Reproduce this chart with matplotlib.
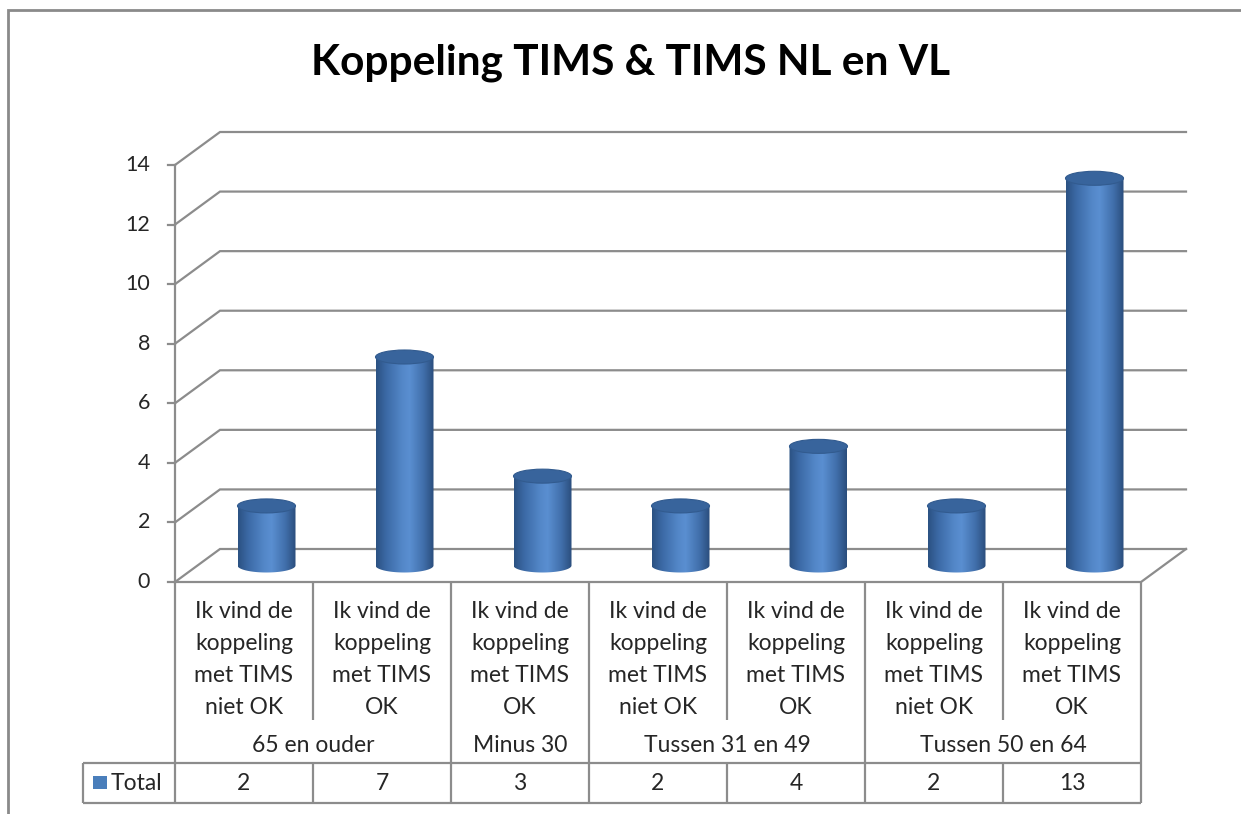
import numpy as np
import matplotlib
matplotlib.use("Agg")
import matplotlib.pyplot as plt
from matplotlib.patches import Ellipse, PathPatch, Rectangle
from matplotlib.path import Path
from matplotlib.colors import LinearSegmentedColormap

# ---------------- data ----------------
title = "Koppeling TIMS & TIMS NL en VL"
category_labels = [
    ["Ik vind de", "koppeling", "met TIMS", "niet OK"],
    ["Ik vind de", "koppeling", "met TIMS", "OK"],
    ["Ik vind de", "koppeling", "met TIMS", "OK"],
    ["Ik vind de", "koppeling", "met TIMS", "niet OK"],
    ["Ik vind de", "koppeling", "met TIMS", "OK"],
    ["Ik vind de", "koppeling", "met TIMS", "niet OK"],
    ["Ik vind de", "koppeling", "met TIMS", "OK"],
]
groups = ["65 en ouder", "Minus 30", "Tussen 31 en 49", "Tussen 50 en 64"]
group_sizes = [2, 1, 2, 2]
series_name = "Total"
values = [2, 7, 3, 2, 4, 2, 13]
yticks = [0, 2, 4, 6, 8, 10, 12, 14]

# ---------------- layout (pixels) ----------------
W, H = 1241, 814
X0, X1 = 175, 1141          # front plot edges
Y0, Y14 = 582, 165          # pixel rows of value 0 and 14
DX, DY = 45, 33             # depth offset in pixels
n = len(values)
colw = (X1 - X0) / n
ppu = (Y0 - Y14) / 14.0

FONT = "Lato"
TXT = "#262626"
GRID = "#8c8c8c"
FS = 16.5

fig = plt.figure(figsize=(W / 100, H / 100), dpi=100)
# overlay axes in pixel coordinates for layout elements
fa = fig.add_axes([0, 0, 1, 1])
fa.set_xlim(0, W)
fa.set_ylim(H, 0)
fa.axis("off")

# main data axes aligned with the front plane
ax = fig.add_axes([X0 / W, (H - Y0) / H, (X1 - X0) / W, (Y0 - Y14) / H])
ax.axis("off")
dxd = DX / colw
dyd = DY / ppu

# walls / gridlines
for t in yticks:
    ax.plot([-0.5, -0.5 + dxd, n - 0.5 + dxd], [t, t + dyd, t + dyd],
            color=GRID, lw=1.6, clip_on=False, solid_joinstyle="miter", zorder=1)
    ax.plot([-0.5 - 7 / colw, -0.5], [t, t], color=GRID, lw=1.6, clip_on=False, zorder=1)
    ax.text(-0.5 - 25 / colw, t, str(t), ha="right", va="center",
            fontsize=15.5, family=FONT, color=TXT)
ax.plot([-0.5, -0.5], [0, yticks[-1]], color=GRID, lw=1.6, clip_on=False, zorder=1)
ax.plot([-0.5, n - 0.5, n - 0.5 + dxd], [0, 0, dyd], color=GRID, lw=1.6,
        clip_on=False, solid_joinstyle="miter", zorder=1)

# cylinders
cmap = LinearSegmentedColormap.from_list(
    "cyl", [(0.0, "#2b5182"), (0.18, "#3c6aa6"), (0.45, "#5387c8"),
            (0.58, "#5a8fd1"), (0.82, "#416fab"), (1.0, "#2a4d7c")])
grad = np.linspace(0, 1, 256)[None, :]
w = 58 / colw
eh = 14 / ppu
th = np.linspace(np.pi, 2 * np.pi, 60)
for i, v in enumerate(values):
    cx = i + dxd / 2
    base = dyd / 2
    top = v + dyd / 2
    xs = [cx - w / 2, cx - w / 2] + list(cx + (w / 2) * np.cos(th)) + [cx + w / 2, cx + w / 2]
    ys = [top, base] + list(base + (eh / 2) * np.sin(th)) + [base, top]
    verts = list(zip(xs, ys)) + [(xs[0], ys[0])]
    codes = [Path.MOVETO] + [Path.LINETO] * (len(verts) - 2) + [Path.CLOSEPOLY]
    body = PathPatch(Path(verts, codes), facecolor="none", edgecolor="none",
                     transform=ax.transData)
    ax.add_patch(body)
    im = ax.imshow(grad, cmap=cmap, aspect="auto", zorder=2,
                   extent=[cx - w / 2, cx + w / 2, base - eh, top],
                   interpolation="bilinear")
    im.set_clip_path(body)
    ax.add_patch(Ellipse((cx, top), w, eh, facecolor="#38649c",
                         edgecolor="#325b8f", lw=0.8, zorder=3))
ax.set_xlim(-0.5, n - 0.5)
ax.set_ylim(0, yticks[-1])

# ---------------- data table ----------------
row1_bot = 720
row2_bot = 763
row3_bot = 803
legend_left = 83
lc = dict(color="#8c8c8c", lw=1.6, solid_capstyle="butt")
bounds = [X0 + colw * k for k in range(n + 1)]
gb = np.cumsum([0] + group_sizes)
# verticals
for k, xb in enumerate(bounds):
    if k in gb:
        fa.plot([xb, xb], [Y0, row3_bot], **lc)
    else:
        fa.plot([xb, xb], [Y0, row1_bot], **lc)
        fa.plot([xb, xb], [row2_bot, row3_bot], **lc)
fa.plot([legend_left, legend_left], [row2_bot, row3_bot], **lc)
fa.plot([legend_left, X1], [row2_bot, row2_bot], **lc)
fa.plot([legend_left, X1], [row3_bot, row3_bot], **lc)

for i, lines in enumerate(category_labels):
    cxp = X0 + colw * (i + 0.5)
    for j, s in enumerate(lines):
        fa.text(cxp, 611 + 32.3 * j, s, ha="center", va="center",
                fontsize=FS, family=FONT, color=TXT)
    fa.text(cxp, (row2_bot + row3_bot) / 2, str(values[i]), ha="center", va="center",
            fontsize=FS, family=FONT, color=TXT)
for g, name in enumerate(groups):
    cxp = X0 + colw * (gb[g] + gb[g + 1]) / 2
    fa.text(cxp, 746, name, ha="center", va="center", fontsize=FS, family=FONT, color=TXT)

fa.add_patch(Rectangle((93, 776), 14, 13, facecolor="#4a7ebb", edgecolor="none"))
fa.text(111, (row2_bot + row3_bot) / 2, series_name, ha="left", va="center",
        fontsize=FS, family=FONT, color=TXT)

# title
fa.text(631, 63, title, ha="center", va="center", fontsize=30.5,
        fontweight="bold", family=FONT, color="#000000")

# outer border
fa.plot([8, 8, W], [H, 10, 10], color="#8a8a8a", lw=2, solid_joinstyle="miter")

fig.savefig("out.png", dpi=100)
